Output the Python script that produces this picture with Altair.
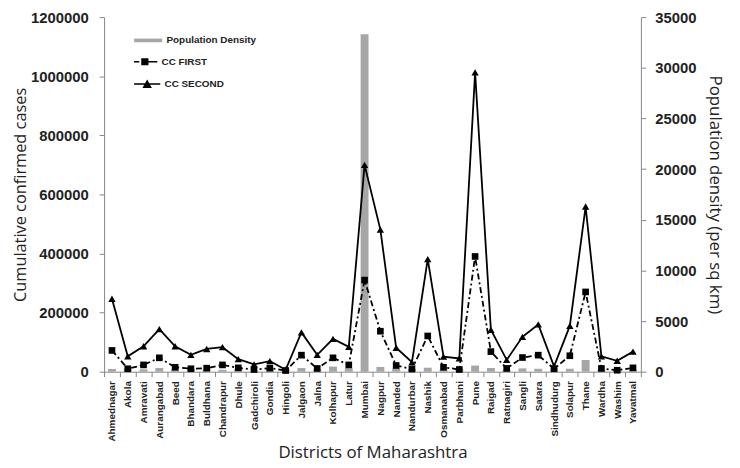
import altair as alt
import pandas as pd

districts = ["Ahmednagar", "Akola", "Amravati", "Aurangabad", "Beed", "Bhandara", "Buldhana",
             "Chandrapur", "Dhule", "Gadchiroli", "Gondia", "Hingoli", "Jalgaon", "Jalna",
             "Kolhapur", "Latur", "Mumbai", "Nagpur", "Nanded", "Nandurbar", "Nashik",
             "Osmanabad", "Parbhani", "Pune", "Raigad", "Ratnagiri", "Sangli", "Satara",
             "Sindhudurg", "Solapur", "Thane", "Wardha", "Washim", "Yavatmal"]

pop_density = [266, 321, 237, 365, 242, 293, 268, 192, 285, 74, 253, 244, 360, 255,
               504, 343, 33300, 470, 319, 277, 393, 219, 295, 603, 368, 196, 329, 287,
               163, 290, 1157, 205, 244, 204]

cc_first = [72000, 10000, 23000, 47000, 15000, 10000, 12000, 23000, 13000, 7500, 12000, 4000,
            56000, 11000, 47000, 23000, 310000, 137000, 21000, 9000, 121000, 15000, 7500,
            390000, 68000, 11000, 48000, 56000, 10000, 54000, 270000, 11000, 5000, 13000]

cc_second = [247000, 52000, 86000, 144000, 86000, 57000, 77000, 83000, 42500, 25000, 36000, 6500,
             133000, 57000, 111000, 84000, 700000, 481000, 81000, 32000, 381000, 51000, 45000,
             1013000, 142000, 40000, 118000, 160000, 18000, 155000, 559000, 52000, 37000, 68000]

series_names = ["CC FIRST", "CC SECOND"]

dens_df = pd.DataFrame({"district": districts, "density": pop_density,
                        "label": "Population Density"})
first_df = pd.DataFrame({"district": districts, "cases": cc_first, "series": series_names[0]})
second_df = pd.DataFrame({"district": districts, "cases": cc_second, "series": series_names[1]})

AX = "#868686"
TICKFONT = "Liberation Sans"
TITLEFONT = "Open Sans"

x_enc = alt.X("district:N", sort=districts,
              scale=alt.Scale(paddingInner=0, paddingOuter=0),
              axis=alt.Axis(title="Districts of Maharashtra", labelAngle=-90, labelAlign="right",
                            labelBaseline="middle", labelFont=TICKFONT, labelFontWeight="bold",
                            labelFontSize=10, labelColor="#222", labelPadding=4,
                            tickBand="extent", tickColor=AX, tickSize=5, domainColor=AX,
                            titleFont=TITLEFONT, titleFontSize=17, titleFontWeight="normal",
                            titleColor="#222", titlePadding=3))


def legend(y, sym, size):
    return alt.Legend(title=None, orient="none", legendX=30, legendY=y,
                      symbolType=sym, symbolSize=size, symbolStrokeWidth=0,
                      symbolOpacity=1, labelFont=TICKFONT, labelFontWeight="bold",
                      labelFontSize=10, labelColor="#222", labelOffset=4)


bars = alt.Chart(dens_df).mark_bar(width=8).encode(
    x=x_enc,
    y=alt.Y("density:Q", scale=alt.Scale(domain=[0, 35000]),
            axis=alt.Axis(orient="right", title="Population density (per sq km)",
                          values=list(range(0, 35001, 5000)), format="d", grid=False,
                          labelFont=TICKFONT, labelFontWeight="bold", labelFontSize=15,
                          labelColor="#222", labelPadding=9, tickColor=AX, tickSize=5,
                          domainColor=AX, titleFont=TITLEFONT, titleFontSize=17,
                          titleFontWeight="normal", titleColor="#222", titlePadding=10)),
    color=alt.Color("label:N", scale=alt.Scale(range=["#a6a6a6"]),
                    legend=legend(9, "M-1,-0.13H1V0.13H-1Z", 800)),
)

y_left = alt.Y("cases:Q", scale=alt.Scale(domain=[0, 1200000]),
               axis=alt.Axis(orient="left", title="Cumulative confirmed cases",
                             values=list(range(0, 1200001, 200000)), format="d", grid=False,
                             labelFont=TICKFONT, labelFontWeight="bold", labelFontSize=15,
                             labelColor="#222", labelPadding=11, tickColor=AX, tickSize=5,
                             domainColor=AX, titleFont=TITLEFONT, titleFontSize=16.5,
                             titleFontWeight="normal", titleColor="#222", titlePadding=2))

shape_scale = alt.Scale(domain=series_names, range=["square", "triangle-up"])

sym_first = ("M-1,-0.06H-0.55V0.06H-1Z M-0.38,-0.3H0.24V0.3H-0.38Z "
             "M0.24,-0.06H1V0.06H0.24Z")
sym_second = "M-1,-0.06H1V0.06H-1Z M0,-0.34L0.36,0.3H-0.36Z"

line1 = alt.Chart(first_df).mark_line(color="black", strokeWidth=1.8,
                                      strokeDash=[6, 3, 2, 3]).encode(x=x_enc, y=y_left)
pts1 = alt.Chart(first_df).mark_point(filled=True, size=45, opacity=1).encode(
    x=x_enc, y=y_left,
    shape=alt.Shape("series:N", scale=shape_scale, legend=None),
    color=alt.Color("series:N", scale=alt.Scale(range=["black"]),
                    legend=legend(33, sym_first, 550)),
)
line2 = alt.Chart(second_df).mark_line(color="black", strokeWidth=1.8).encode(x=x_enc, y=y_left)
pts2 = alt.Chart(second_df).mark_point(filled=True, size=55, opacity=1).encode(
    x=x_enc, y=y_left,
    shape=alt.Shape("series:N", scale=shape_scale, legend=None),
    color=alt.Color("series:N", scale=alt.Scale(range=["black"]),
                    legend=legend(54, sym_second, 700)),
)

lines = alt.layer(line1, pts1, line2, pts2).resolve_scale(color="independent")

chart = alt.layer(bars, lines).resolve_scale(
    y="independent", color="independent"
).properties(
    width=542, height=358,
    autosize=alt.AutoSizeParams(type="none"),
    padding={"left": 97, "top": 7, "right": 92, "bottom": 95},
).configure_view(stroke=None)

chart.save("out.html", embed_options={"renderer": "svg", "actions": False})
